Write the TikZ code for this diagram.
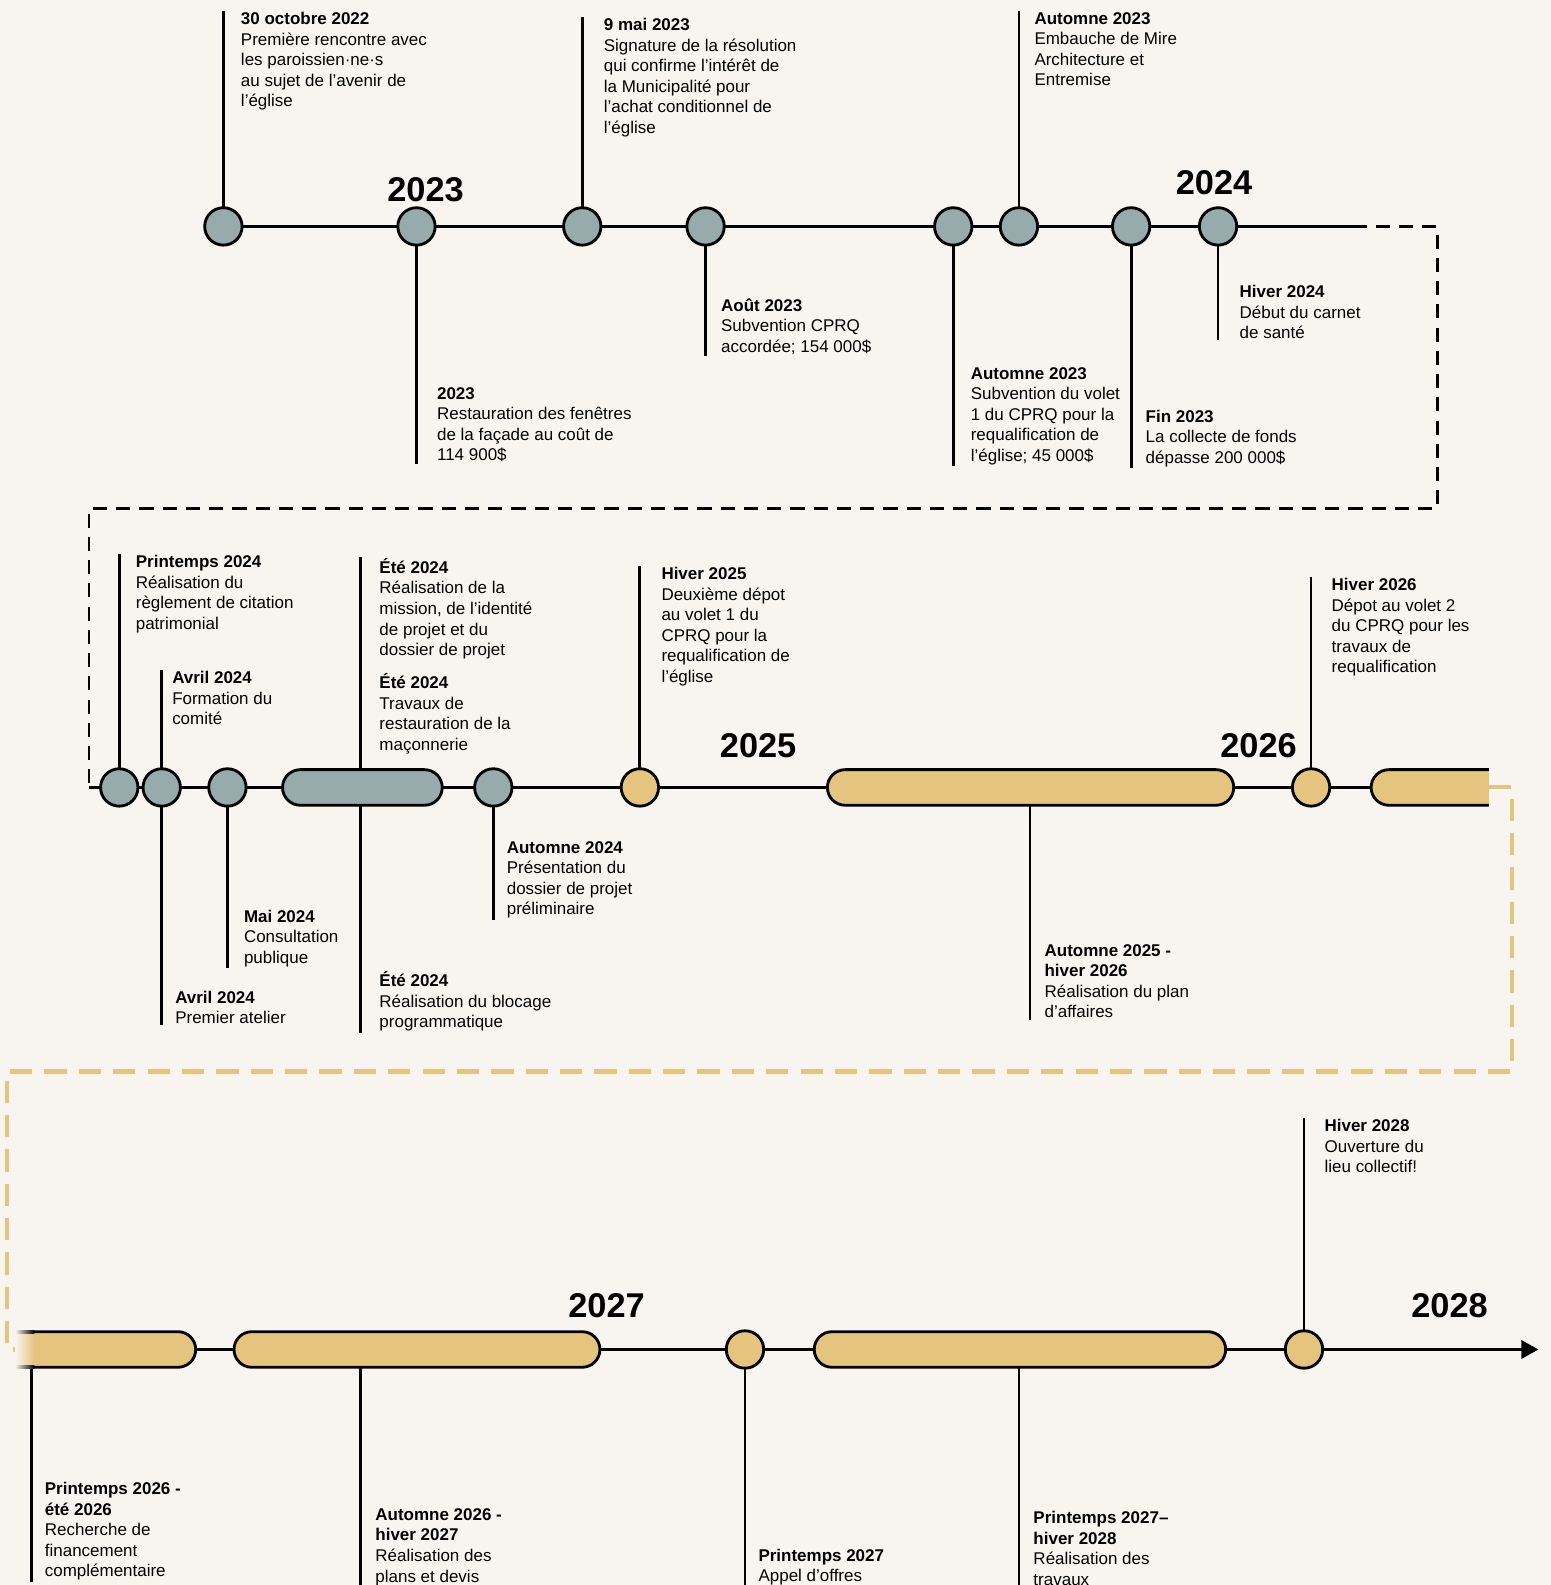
\documentclass[tikz,border=0pt]{standalone}
\usepackage{fontspec}
\setmainfont{Liberation Sans}
\usetikzlibrary{positioning,shapes.misc,arrows.meta,backgrounds}
\definecolor{bg1}{RGB}{248,245,240}
\definecolor{gr1}{RGB}{151,170,172}
\definecolor{go1}{RGB}{229,196,127}

\begin{document}
\begin{tikzpicture}[
    x=1pt, y=-1pt,
    line width=2.8pt,
    lbl/.style={
        anchor=north west, align=left, inner sep=0pt,
        font=\fontsize{16.8}{20.3}\selectfont
    },
    yr/.style={inner sep=0pt, font=\fontsize{34}{34}\selectfont\bfseries},
    ev/.style={circle, draw, line width=2.8pt, minimum size=37pt, inner sep=0pt},
    evg/.style={ev, fill=gr1},
    evy/.style={ev, fill=go1},
    bar/.style={rounded rectangle, draw, line width=2.8pt, minimum height=35.2pt, inner sep=0pt},
    ln/.style={line width=2.8pt},
    dk/.style={dash pattern=on 14pt off 9pt, line width=2.8pt},
    dy/.style={dash pattern=on 22pt off 12pt, line width=4pt, color=go1}
]

\useasboundingbox (0,0) rectangle (1534,1568);

% row 1
\node [evg] (a1) at (221,224) {};
\node [evg] (a2) at (412,224) {};
\node [evg] (a3) at (576,224) {};
\node [evg] (a4) at (698,224) {};
\node [evg] (a5) at (943,224) {};
\node [evg] (a6) at (1008,224) {};
\node [evg] (a7) at (1119,224) {};
\node [evg] (a8) at (1205,224) {};

\node [yr] (y23) at (421,188) {2023};
\node [yr] (y24) at (1201,181) {2024};

\node [lbl] (ta1) at (237,11) {\textbf{30 octobre 2022}\\Première rencontre avec\\les paroissien·ne·s\\au sujet de l’avenir de\\l’église};
\node [lbl] (ta2) at (431,382) {\textbf{2023}\\Restauration des fenêtres\\de la façade au coût de\\114 900\$};
\node [lbl] (ta3) at (596,17) {\textbf{9 mai 2023}\\Signature de la résolution\\qui confirme l’intérêt de\\la Municipalité pour\\l’achat conditionnel de\\l’église};
\node [lbl] (ta4) at (712,294) {\textbf{Août 2023}\\Subvention CPRQ\\accordée; 154 000\$};
\node [lbl] (ta5) at (959,362) {\textbf{Automne 2023}\\Subvention du volet\\1 du CPRQ pour la\\requalification de\\l’église; 45 000\$};
\node [lbl] (ta6) at (1022,11) {\textbf{Automne 2023}\\Embauche de Mire\\Architecture et\\Entremise};
\node [lbl] (ta7) at (1132,404) {\textbf{Fin 2023}\\La collecte de fonds\\dépasse 200 000\$};
\node [lbl] (ta8) at (1225,281) {\textbf{Hiver 2024}\\Début du carnet\\de santé};

% row 2
\node [evg] (b1) at (118,779) {};
\node [evg] (b2) at (160,779) {};
\node [evg] (b3) at (225,779) {};
\node [bar, fill=gr1, minimum width=158pt] (b4) at (358.5,779) {};
\node [evg] (b5) at (488,779) {};
\node [evy] (b6) at (633,779) {};
\node [bar, fill=go1, minimum width=402pt] (b7) at (1019.5,779) {};
\node [evy] (b8) at (1297,779) {};

\node [yr] (y25) at (750,738) {2025};
\node [yr] (y26) at (1245,738) {2026};

\node [lbl] (tb1) at (133,548) {\textbf{Printemps 2024}\\Réalisation du\\règlement de citation\\patrimonial};
\node [lbl] (tb2) at (169,663) {\textbf{Avril 2024}\\Formation du\\comité};
\node [lbl] (tb2d) at (172,979) {\textbf{Avril 2024}\\Premier atelier};
\node [lbl] (tb3) at (240,899) {\textbf{Mai 2024}\\Consultation\\publique};
\node [lbl] (tb4) at (374,551) {\textbf{Été 2024}\\Réalisation de la\\mission, de l’identité\\de projet et du\\dossier de projet};
\node [lbl] (tb4b) at (374,665) {\textbf{Été 2024}\\Travaux de\\restauration de la\\maçonnerie};
\node [lbl] (tb4d) at (374,960) {\textbf{Été 2024}\\Réalisation du blocage\\programmatique};
\node [lbl] (tb5) at (500,831) {\textbf{Automne 2024}\\Présentation du\\dossier de projet\\préliminaire};
\node [lbl] (tb6) at (653,560) {\textbf{Hiver 2025}\\Deuxième dépot\\au volet 1 du\\CPRQ pour la\\requalification de\\l’église};
\node [lbl] (tb7) at (1032,933) {\textbf{Automne 2025 -}\\\textbf{hiver 2026}\\Réalisation du plan\\d’affaires};
\node [lbl] (tb8) at (1316,571) {\textbf{Hiver 2026}\\Dépot au volet 2\\du CPRQ pour les\\travaux de\\requalification};

% open bar at the end of row 2
\fill [go1] (1473,761.4) -- (1374,761.4) arc [start angle=270, end angle=90, radius=17.6] -- (1473,796.6) -- cycle;
\draw (1473,761.4) -- (1374,761.4) arc [start angle=270, end angle=90, radius=17.6] -- (1473,796.6);

% row 3
\fill [go1] (16,1317.4) -- (176,1317.4) arc [start angle=270, end angle=450, radius=17.6] -- (16,1352.6) -- cycle;
\draw (16,1317.4) -- (176,1317.4) arc [start angle=270, end angle=450, radius=17.6] -- (16,1352.6);
\shade [left color=bg1, right color=go1] (15,1318.8) rectangle (34,1351.2);
\shade [left color=bg1, right color=black] (15,1316) rectangle (34,1318.8);
\shade [left color=bg1, right color=black] (15,1351.2) rectangle (34,1354);

\node [bar, fill=go1, minimum width=362pt] (c2) at (412.5,1335) {};
\node [evy] (c3) at (737,1335) {};
\node [bar, fill=go1, minimum width=407pt] (c4) at (1009,1335) {};
\node [evy] (c5) at (1290,1335) {};

\node [yr] (y27) at (600,1292) {2027};
\node [yr] (y28) at (1434,1292) {2028};

\node [lbl] (tc1) at (43,1465) {\textbf{Printemps 2026 -}\\\textbf{été 2026}\\Recherche de\\financement\\complémentaire};
\node [lbl] (tc2) at (370,1491) {\textbf{Automne 2026 -}\\\textbf{hiver 2027}\\Réalisation des\\plans et devis};
\node [lbl] (tc3) at (749,1531) {\textbf{Printemps 2027}\\Appel d’offres};
\node [lbl] (tc4) at (1021,1494) {\textbf{Printemps 2027–}\\\textbf{hiver 2028}\\Réalisation des\\travaux};
\node [lbl] (tc5) at (1309,1106) {\textbf{Hiver 2028}\\Ouverture du\\lieu collectif!};

\coordinate (r1e) at (1338,224);
\coordinate (k1) at (1422,503);
\coordinate (r2s) at (88,779);
\coordinate (r2e) at (1473,779);
\coordinate (k2) at (1496,1060);
\coordinate (k3) at (7,1335);
\coordinate (r3s) at (16,1335);
\coordinate (r3e) at (1522,1335);
\coordinate (s4) at (357,779);
\coordinate (s7) at (1019,779);
\coordinate (sc1) at (31,1335);
\coordinate (sc2) at (357,1335);
\coordinate (sc4) at (1008,1335);

\begin{pgfonlayer}{background}
\begin{scope}[ln]
\fill [bg1] (0,0) rectangle (1534,1568);

% lines
\draw (a1.center) -- (r1e);
\draw [dk] (r1e) -| (k1) -| (r2s);
\draw (r2s) -- (r2e);
\draw [dy] (r2e) -| (k2) -| (k3) -- (r3s);
\draw [-{Triangle[length=17pt,width=18pt]}] (r3s) -- (r3e);

% stems
\draw (a1.center) -- (a1 |- ta1.north);
\draw (a2.center) -- (a2 |- ta2.south);
\draw (a3.center) -- (a3 |- ta3.north);
\draw (a4.center) -- (a4 |- ta4.south);
\draw (a5.center) -- (a5 |- ta5.south);
\draw (a6.center) -- (a6 |- ta6.north);
\draw (a7.center) -- (a7 |- ta7.south);
\draw (a8.center) -- (a8 |- ta8.south);

\draw (b1.center) -- (b1 |- tb1.north);
\draw (b2 |- tb2.north) -- (b2 |- tb2d.south);
\draw (b3.center) -- (b3 |- tb3.south);
\draw (s4 |- tb4.north) -- (s4 |- tb4d.south);
\draw (b5.center) -- (b5 |- tb5.south);
\draw (b6.center) -- (b6 |- tb6.north);
\draw (s7) -- (s7 |- tb7.south);
\draw (b8.center) -- (b8 |- tb8.north);

\draw (sc1) -- (sc1 |- tc1.south);
\draw (sc2) -- (sc2 |- tc2.south);
\draw (c3.center) -- (c3 |- tc3.south);
\draw (sc4) -- (sc4 |- tc4.south);
\draw (c5.center) -- (c5 |- tc5.north);
\end{scope}
\end{pgfonlayer}

\end{tikzpicture}
\end{document}
